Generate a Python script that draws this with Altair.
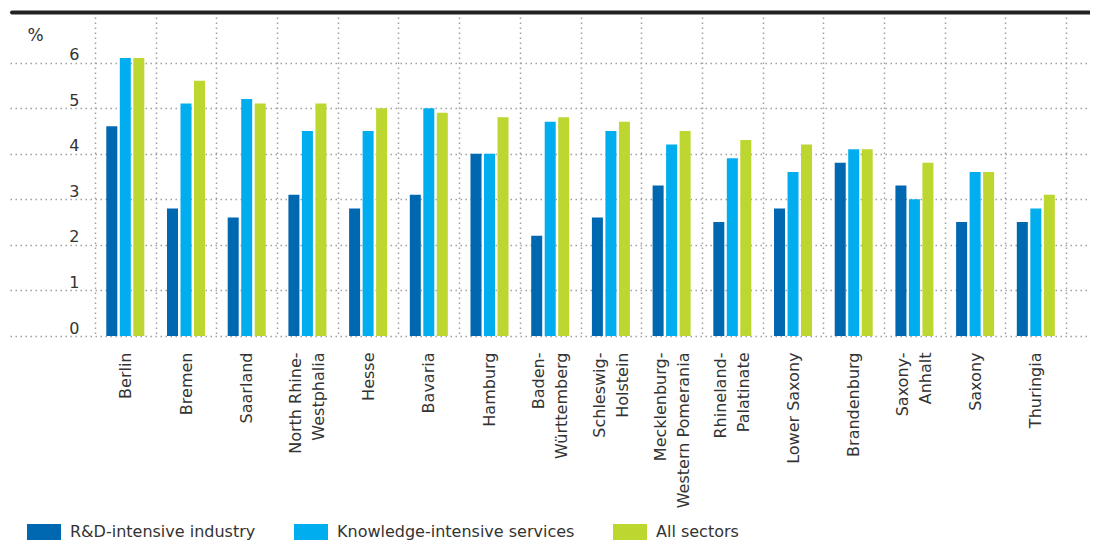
import altair as alt
import pandas as pd

# ---- data ----
states = [
    "Berlin", "Bremen", "Saarland", "North Rhine-Westphalia", "Hesse", "Bavaria",
    "Hamburg", "Baden-Württemberg", "Schleswig-Holstein", "Mecklenburg-Western Pomerania",
    "Rhineland-Palatinate", "Lower Saxony", "Brandenburg", "Saxony-Anhalt", "Saxony", "Thuringia",
]
rd_industry = [4.6, 2.8, 2.6, 3.1, 2.8, 3.1, 4.0, 2.2, 2.6, 3.3, 2.5, 2.8, 3.8, 3.3, 2.5, 2.5]
knowledge_services = [6.1, 5.1, 5.2, 4.5, 4.5, 5.0, 4.0, 4.7, 4.5, 4.2, 3.9, 3.6, 4.1, 3.0, 3.6, 2.8]
all_sectors = [6.1, 5.6, 5.1, 5.1, 5.0, 4.9, 4.8, 4.8, 4.7, 4.5, 4.3, 4.2, 4.1, 3.8, 3.6, 3.1]

series_names = ["R&D-intensive industry", "Knowledge-intensive services", "All sectors"]
series_colors = ["#0067b1", "#00aeef", "#bed630"]
y_ticks = [0, 1, 2, 3, 4, 5, 6]

rows = []
for i, s in enumerate(states):
    for name, vals in zip(series_names, [rd_industry, knowledge_services, all_sectors]):
        rows.append({"state": s, "series": name, "value": vals[i]})
df = pd.DataFrame(rows)

FONT = "DejaVu Sans"
TEXT = "#333333"
GRID = "#a0a0a0"
BLANK = "\u2800"  # blank glyph used as an invisible half-step line

# hyphenated names wrap after the hyphen; the wrapped block is centred on the tick
label_expr = (
    "split(indexof(datum.label, '-') >= 0 ? "
    f"replace(datum.label, '-', '-|{BLANK}|') : '{BLANK}|' + datum.label, '|')"
)

bars = alt.Chart(df).mark_bar().encode(
    x=alt.X(
        "state:N", sort=states, title=None,
        scale=alt.Scale(paddingInner=0, paddingOuter=0.896, align=0.781),
        axis=alt.Axis(
            labelAngle=270, labelAlign="right", labelBaseline="middle",
            labelPadding=16, labelFontSize=16, labelColor=TEXT, labelFont=FONT,
            labelLineHeight=11.5, labelOffset=-11.5,
            labelExpr=label_expr,
            ticks=False, tickSize=0, domain=False,
            grid=True, gridColor=GRID, gridDash=[1.5, 3.5], gridWidth=1.5,
            tickBand="extent",
        ),
    ),
    xOffset=alt.XOffset(
        "series:N", sort=series_names,
        scale=alt.Scale(paddingInner=0.185, paddingOuter=0.84),
    ),
    y=alt.Y(
        "value:Q",
        scale=alt.Scale(domain=[0, 7], nice=False),
        axis=alt.Axis(
            values=y_ticks, title="%", titleAngle=0, titleX=17, titleY=23,
            titleAlign="left", titleBaseline="alphabetic", titleFontSize=17,
            titleFont=FONT, titleColor=TEXT, titleFontWeight="normal",
            labelAlign="right", labelPadding=-69, labelBaseline="alphabetic",
            labelOffset=-3, labelFontSize=16, labelFont=FONT, labelColor=TEXT,
            ticks=False, tickSize=0, domain=False,
            grid=True, gridColor=GRID, gridDash=[1.5, 3.5], gridWidth=1.5,
        ),
    ),
    color=alt.Color(
        "series:N", sort=series_names,
        scale=alt.Scale(domain=series_names, range=series_colors),
        legend=alt.Legend(
            title=None, orient="none", legendX=17, legendY=498,
            direction="horizontal",
            symbolType="M-1,-0.47H1V0.47H-1Z", symbolSize=1156,
            symbolStrokeWidth=0, symbolOpacity=1,
            labelOffset=9, columnPadding=38, labelFontSize=16, labelLimit=400,
            labelFont=FONT, labelColor=TEXT, padding=0,
        ),
    ),
)

top_line = alt.Chart(alt.Data(values=[{}])).mark_rule(
    color="#222222", strokeWidth=4, strokeCap="round"
).encode(x=alt.value(2), x2=alt.value(1080), y=alt.value(-4.5))

chart = alt.layer(bars, top_line).properties(
    width=1080, height=319,
    padding={"left": 2, "top": 9, "right": 0, "bottom": 208},
    autosize=alt.AutoSizeParams(type="none"),
    background="white",
).configure_view(stroke=None).configure_axisX(
    gridDash=[1.5, 3.5], gridColor=GRID, gridWidth=1.5
)

chart.save("out.html", embed_options={"renderer": "svg", "actions": False})
